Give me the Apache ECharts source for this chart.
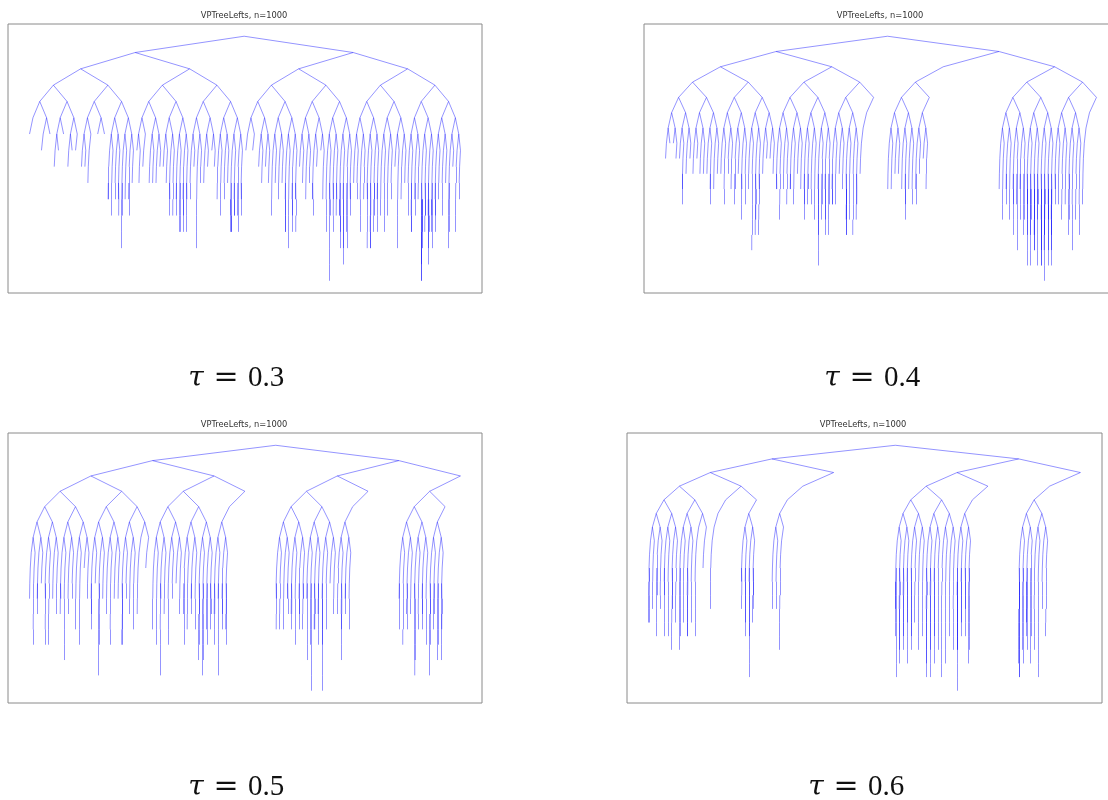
<!DOCTYPE html>
<html>
<head>
<meta charset="utf-8">
<script src="https://cdn.jsdelivr.net/npm/echarts@6/dist/echarts.min.js"></script>
<style>
  html, body { margin: 0; padding: 0; background: #ffffff; }
  #chart { width: 1108px; height: 800px; }
</style>
</head>
<body>
<div id="chart"></div>
<script>
// Each tree is described by its 32 nodes at depth 5 (left to right).
// Every entry lists the end depths of the branches hanging below that node;
// an empty list means the node does not exist.
const leavesTau03 = [
  [6], [7,6], [8,7,6], [8,7,7,6], [8,8,9], [6,6], [9,10,10,11,9,8,10,9,10,11], [13,11,9,10,10,11,9],
  [7,9,8], [8,9,9,8,9,8], [7,8,9,9,11,10,11,9], [9,10,11,12,12,9,11,12,12,10], [6,10,8,13,9], [9,8,7,8], [10,9,11,8,10,9], [12,12,12,11,11,8,10,11,12,11,10,9],
  [7,7], [8,9,8,9], [7,11,9,10,9], [10,12,12,13,9,9,12,11,10,12], [8,9,10,9], [10,11,8,7,10], [9,12,15,11,10,12,11,10], [11,12,13,14,13,9,12,13,11,10],
  [8,9,10,12,9,10], [10,13,13,13,12,11,12,10], [9,11,9,12,7,11,10], [8,13,10,9], [9,11,12,12,10,11,10], [15,15,14,13,12,11,10,10,14,13,12,12,11,13], [12,11,10,7,11,9], [13,12,8,12,10]
];
const leavesTau04 = [
  [8,7,7,8], [8,8,10,11,7,9,8], [8,9,8,9,9], [9,9,10,11,8,10,9], [9,11,9,10], [11,10,9,12,10,11], [8,10,9,14,13,12,13,10], [9,8,8,9],
  [10,10,12,9,10,11], [10,10,11,9,10], [12,11,11,10,9,11,12], [8,13,15,12,11,10,13,12,13,11], [11,11,11,9,10], [13,13,12,12,9,7,13,12,11], [9], [],
  [8,10,10,9,9], [10,9,11,12,9,10,11], [10,11,9,8,10], [], [], [], [], [],
  [9,10,12,10,11,12], [11,13,11,14,10,12,13,12], [11,15,13,13,15,12,14,14,13,12,15,11], [14,15,15,14,16,13,12,15,14,15,13,14], [11,10,11,12,11], [13,12,14,12,13], [11], []
];
const leavesTau05 = [
  [8,10,13,9,11,10,9], [10,13,9,13,7,10,11], [11,10,14,9,11,10], [9,12,13,8,10], [11,12,9,15,13,10], [11,13,10,10], [13,13,10,11,12], [11,8],
  [12,9,13,15,10,11], [13,10,9,11], [11,13,12,10,11,12], [14,13,15,14,12,13,12,11], [11,13,15,10,12,11,12,13], [], [], [],
  [10,12,9,12,12,7,10,11], [11,12,13,9,12,11,12,10], [10,14,13,16,12,12,11,13], [16,13,12,9,11], [9,11,12,14,10,11,12], [], [], [],
  [10,12,13,11,12,11], [14,15,12,11,12,13], [15,13,12,11,14,13,12,14], [], [], [], [], []
];
const leavesTau06 = [
  [13,13,12,14,11,12], [11,14,14,15,12,13], [15,14,13,14,14,13], [14,9], [12], [], [10,12,13,14,14,17,13,12], [],
  [12,12,15], [], [], [], [], [], [], [],
  [12,14,17,16,15,15,14,13,16], [15,14,13,15,14], [16,17,17,15,14,16,15], [17,16,14,15], [18,15,15,14,13,14,12,16,15], [], [], [],
  [16,17,17,15,16,14,13,15,16,14], [15,17,12,14], [], [], [], [], [], []
];
const tauValues = ['0.3', '0.4', '0.5', '0.6'];
const panelTitle = 'VPTreeLefts, n=1000';

const SLOT_DEPTH = 5;    // depth of the nodes listed above
const FAN_LEVELS = 2;    // levels below a slot where the branches fan out
const DEEP_SPLIT = 9;    // depth from which grouped branches separate again
// horizontal distance between a node at depth d and each of its children
function childOffset(d) { return 0.5 / Math.pow(2, d); }

function buildTree(slots) {
  const edges = [];
  let minX = 0, maxX = 0, maxD = 0;
  function link(x0, d0, x1, d1) {
    edges.push([[x0, d0], [x1, d1]]);
    minX = Math.min(minX, x1); maxX = Math.max(maxX, x1); maxD = Math.max(maxD, d1);
  }
  // branches are split evenly between both children; an only child is the left one
  function bundle(x, d, ends) {
    const rest = ends.filter(e => e > d);
    if (!rest.length) return;
    const lx = x - childOffset(d), rx = x + childOffset(d);
    const grouped = d >= SLOT_DEPTH + FAN_LEVELS && d < DEEP_SPLIT;
    if (rest.length === 1 || grouped) { link(x, d, lx, d + 1); bundle(lx, d + 1, rest); return; }
    const h = Math.ceil(rest.length / 2);
    link(x, d, lx, d + 1); bundle(lx, d + 1, rest.slice(0, h));
    link(x, d, rx, d + 1); bundle(rx, d + 1, rest.slice(h));
  }
  function has(a, b) { return slots.slice(a, b).some(s => s.length); }
  function grow(x, d, lo, hi) {
    if (d === SLOT_DEPTH) { bundle(x, d, slots[lo]); return; }
    const mid = (lo + hi) / 2;
    if (has(lo, mid)) { const cx = x - childOffset(d); link(x, d, cx, d + 1); grow(cx, d + 1, lo, mid); }
    if (has(mid, hi)) { const cx = x + childOffset(d); link(x, d, cx, d + 1); grow(cx, d + 1, mid, hi); }
  }
  grow(0, 0, 0, slots.length);
  return { edges, minX, maxX, maxD };
}

const panels = [
  { slots: leavesTau03, grid: { left: 8, top: 24, width: 474, height: 269 }, titleAt: [244, 16], tauAt: [236, 388] },
  { slots: leavesTau04, grid: { left: 644, top: 24, width: 474, height: 269 }, titleAt: [880, 16], tauAt: [872, 388] },
  { slots: leavesTau05, grid: { left: 8, top: 433, width: 474, height: 270 }, titleAt: [244, 425], tauAt: [236, 797] },
  { slots: leavesTau06, grid: { left: 627, top: 433, width: 475, height: 270 }, titleAt: [863, 425], tauAt: [856, 797] }
];

const grids = [], xAxes = [], yAxes = [], series = [], texts = [];
panels.forEach((p, i) => {
  const t = buildTree(p.slots);
  const padX = 0.05 * (t.maxX - t.minX);
  const padY = 0.05 * t.maxD;
  grids.push(Object.assign({
    show: true, borderColor: '#8a8a8a', borderWidth: 1, backgroundColor: 'transparent',
    containLabel: false, outerBoundsMode: 'none'
  }, p.grid));
  xAxes.push({ gridIndex: i, type: 'value', min: t.minX - padX, max: t.maxX + padX, show: false });
  yAxes.push({ gridIndex: i, type: 'value', inverse: true, min: -padY, max: t.maxD + padY, show: false });
  series.push({
    type: 'lines',
    coordinateSystem: 'cartesian2d',
    xAxisIndex: i,
    yAxisIndex: i,
    silent: true,
    large: false,
    progressive: 0,
    animation: false,
    lineStyle: { color: 'rgba(0,0,255,0.42)', width: 1, opacity: 1 },
    data: t.edges.map(c => ({ coords: c }))
  });
  texts.push({
    type: 'text', x: p.titleAt[0], y: p.titleAt[1], silent: true,
    style: { text: panelTitle, align: 'center', verticalAlign: 'middle', fontFamily: 'DejaVu Sans', fontSize: 8.3, fill: '#333333' }
  });
  // "τ = value" caption, baseline at tauAt[1]
  const [cx, base] = p.tauAt;
  texts.push({
    type: 'text', x: cx - 40, y: base - 0.34 * 28, silent: true,
    style: { text: 'τ', align: 'center', verticalAlign: 'middle', fontFamily: 'DejaVu Serif', fontStyle: 'italic', fontSize: 28, fill: '#111111' }
  });
  texts.push({
    type: 'text', x: cx - 10, y: base - 0.34 * 30, silent: true,
    style: { text: '=', align: 'center', verticalAlign: 'middle', fontFamily: 'DejaVu Serif', fontSize: 30, fill: '#111111' }
  });
  texts.push({
    type: 'text', x: cx + 30, y: base - 0.34 * 29, silent: true,
    style: { text: tauValues[i], align: 'center', verticalAlign: 'middle', fontFamily: 'Liberation Serif', fontSize: 29, fill: '#111111' }
  });
});

const chart = echarts.init(document.getElementById('chart'), null, { renderer: 'canvas' });
chart.setOption({
  animation: false,
  backgroundColor: '#ffffff',
  grid: grids,
  xAxis: xAxes,
  yAxis: yAxes,
  series: series,
  graphic: texts
});
</script>
</body>
</html>
